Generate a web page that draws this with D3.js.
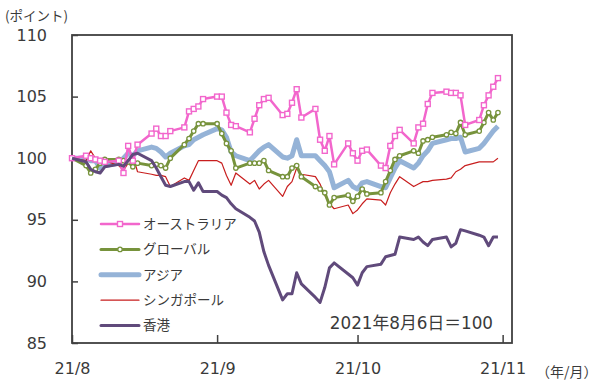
<!DOCTYPE html>
<html>
<head>
<meta charset="utf-8">
<script src="https://cdn.jsdelivr.net/npm/d3@7"></script>
<style>
  body { margin: 0; background: #fff; }
  text { fill: #3a3a3a; }
</style>
</head>
<body>
<div id="chart"></div>
<script>
// trading days, 2021
const days = ["8/6","8/9","8/10","8/11","8/12","8/13","8/16","8/17","8/18","8/19","8/20",
  "8/23","8/24","8/25","8/26","8/27","8/30","8/31",
  "9/1","9/2","9/3","9/6","9/7","9/8","9/9","9/10","9/13","9/14","9/15","9/16","9/17",
  "9/20","9/21","9/22","9/23","9/24","9/27","9/28","9/29","9/30",
  "10/1","10/4","10/5","10/6","10/7","10/8","10/11","10/12","10/13","10/14","10/15",
  "10/18","10/19","10/20","10/21","10/22","10/25","10/26","10/27","10/28","10/29",
  "11/1","11/2","11/3","11/4","11/5"];

const australia = [100,100.2,100.0,99.9,99.8,99.7,99.8,98.8,101.0,99.8,101.1,102.0,102.4,101.8,101.8,102.2,102.5,103.8,
  104.0,104.2,104.8,105.0,105.0,103.7,102.7,102.6,102.1,103.2,104.3,104.8,104.9,103.5,103.6,104.5,105.6,103.3,104.0,101.5,100.6,101.8,
  99.5,101.2,100.4,99.8,100.6,100.7,99.4,99.2,101.0,101.8,102.3,101.2,102.5,102.8,104.4,105.3,105.4,105.3,105.3,105.1,102.7,
  103.1,104.3,105.1,105.8,106.5];
const globalIdx = [100,99.4,98.8,99.1,99.6,99.9,99.9,99.8,99.7,99.3,99.6,99.4,99.5,99.4,99.2,100.0,101.1,101.6,
  102.2,102.8,102.8,102.8,102.0,101.2,100.6,99.2,99.6,99.6,99.6,99.8,99.0,98.5,98.5,99.2,99.4,98.5,97.7,97.5,97.2,96.2,
  96.8,97.0,96.5,96.9,97.5,97.1,97.2,98.1,99.0,99.9,100.2,100.6,100.4,101.4,101.5,101.7,101.9,102.1,102.0,102.9,101.9,
  102.2,102.9,103.7,103.1,103.7];
const asia = [100,100.0,99.8,99.8,99.2,99.4,99.6,100.0,100.4,100.2,100.6,100.9,100.8,100.5,100.1,100.4,101.0,101.1,
  101.5,101.7,101.9,102.4,102.3,101.7,100.5,100.2,99.8,100.2,100.6,100.9,101.1,100.1,100.0,100.2,101.5,100.2,100.2,99.8,99.4,98.9,
  97.6,98.2,97.7,97.5,98.0,98.1,97.7,97.6,98.4,99.2,99.8,99.2,99.6,100.2,100.6,101.2,101.5,101.6,101.6,101.7,100.5,
  100.8,101.2,101.7,102.2,102.6];
const singapore = [100,99.8,100.6,100.0,99.8,99.8,99.4,99.0,99.6,100.2,98.9,98.7,98.6,98.6,98.5,97.7,98.4,98.2,
  99.0,99.8,99.8,99.8,99.6,98.6,97.8,98.8,97.9,98.2,97.5,97.9,98.2,96.9,97.7,98.1,99.2,98.7,98.5,97.9,97.0,96.3,
  95.9,96.2,95.5,95.8,96.3,96.7,96.6,96.2,97.2,97.9,98.5,97.7,97.9,98.1,98.1,98.2,98.3,98.4,98.9,99.1,99.4,
  99.7,99.7,99.7,99.7,100.0];
const hongkong = [100,99.7,99.1,98.9,98.8,99.3,99.5,99.35,99.8,100.3,100.4,99.8,99.2,98.5,97.8,97.7,98.1,98.1,
  97.4,98.0,97.3,97.3,97.0,96.8,96.3,95.9,95.2,94.9,94.0,92.4,91.3,88.5,89.0,89.0,90.7,89.8,88.7,88.3,89.5,91.1,
  91.5,90.6,90.3,89.7,90.7,91.2,91.4,92.0,92.1,92.2,93.6,93.4,93.6,93.2,92.9,93.4,93.6,92.8,93.1,94.2,94.1,
  93.75,93.6,92.9,93.6,93.6];

const yTicks = [85, 90, 95, 100, 105, 110];
const xTickDays = ["8/6", "9/6", "10/6", "11/6"];

const W = 600, H = 385;
const margin = {left: 72, right: 512, top: 35, bottom: 343};

const parse = d3.timeParse("%Y/%m/%d");
const dates = days.map(d => parse("2021/" + d));

const x = d3.scaleTime()
  .domain([parse("2021/8/6"), parse("2021/11/8")])
  .range([margin.left, margin.right]);
const y = d3.scaleLinear().domain([85, 110]).range([margin.bottom, margin.top]);

const series = [
  {name: "アジア", values: asia, color: "#95B3D7", width: 5, marker: null},
  {name: "シンガポール", values: singapore, color: "#C81E1E", width: 1.2, marker: null},
  {name: "グローバル", values: globalIdx, color: "#77933C", width: 3, marker: "circle"},
  {name: "オーストラリア", values: australia, color: "#F266CC", width: 2.5, marker: "square"},
  {name: "香港", values: hongkong, color: "#604A7B", width: 3, marker: null}
];
const legendOrder = ["オーストラリア", "グローバル", "アジア", "シンガポール", "香港"];

const svg = d3.select("#chart").append("svg")
  .attr("width", W).attr("height", H);

// axes
svg.append("g")
  .attr("transform", "translate(" + margin.left + ",0)")
  .call(d3.axisLeft(y).tickValues(yTicks).tickSizeInner(-6).tickSizeOuter(0).tickPadding(25))
  .call(g => g.select(".domain").remove())
  .call(g => g.selectAll("line").attr("stroke", "#404040").attr("stroke-width", 1.5))
  .call(g => g.selectAll("text").attr("font-family", "DejaVu Sans").attr("font-size", 16).attr("fill", "#3a3a3a"));

svg.append("g")
  .attr("transform", "translate(0," + margin.bottom + ")")
  .call(d3.axisBottom(x).tickValues(xTickDays.map(d => parse("2021/" + d)))
    .tickFormat(d3.timeFormat("%y/%-m")).tickSizeInner(-8).tickSizeOuter(0).tickPadding(20))
  .call(g => g.select(".domain").remove())
  .call(g => g.selectAll("line").attr("stroke", "#404040").attr("stroke-width", 1.5))
  .call(g => g.selectAll("text").attr("font-family", "DejaVu Sans").attr("font-size", 16).attr("fill", "#3a3a3a"));

svg.append("rect")
  .attr("x", margin.left).attr("y", margin.top)
  .attr("width", margin.right - margin.left).attr("height", margin.bottom - margin.top)
  .attr("fill", "none").attr("stroke", "#404040").attr("stroke-width", 1.8);

// lines
const line = d3.line().x((d, i) => x(dates[i])).y(d => y(d));

series.forEach(s => {
  svg.append("path")
    .datum(s.values)
    .attr("fill", "none")
    .attr("stroke", s.color)
    .attr("stroke-width", s.width)
    .attr("stroke-linejoin", "round")
    .attr("d", line);
  if (s.marker === "square") {
    svg.append("g").selectAll("rect").data(s.values).join("rect")
      .attr("x", (d, i) => x(dates[i]) - 2.5).attr("y", d => y(d) - 2.5)
      .attr("width", 5).attr("height", 5)
      .attr("fill", "#fff").attr("stroke", s.color).attr("stroke-width", 1.4);
  } else if (s.marker === "circle") {
    svg.append("g").selectAll("circle").data(s.values).join("circle")
      .attr("cx", (d, i) => x(dates[i])).attr("cy", d => y(d)).attr("r", 2.2)
      .attr("fill", "#fff").attr("stroke", s.color).attr("stroke-width", 1.3);
  }
});

// legend
const lg = svg.append("g").attr("transform", "translate(100,224)");
legendOrder.forEach((name, i) => {
  const s = series.find(d => d.name === name);
  const g = lg.append("g").attr("transform", "translate(0," + (i * 25.4) + ")");
  g.append("line").attr("x1", 1).attr("x2", 39).attr("y1", 0).attr("y2", 0)
    .attr("stroke", s.color).attr("stroke-width", s.width).attr("stroke-linecap", "round");
  if (s.marker === "square") {
    g.append("rect").attr("x", 17.5).attr("y", -2.5).attr("width", 5).attr("height", 5)
      .attr("fill", "#fff").attr("stroke", s.color).attr("stroke-width", 1.4);
  } else if (s.marker === "circle") {
    g.append("circle").attr("cx", 20).attr("cy", 0).attr("r", 2.2)
      .attr("fill", "#fff").attr("stroke", s.color).attr("stroke-width", 1.3);
  }
  g.append("text").attr("x", 43).attr("y", 0).attr("dy", "0.36em")
    .attr("font-family", "Noto Sans CJK JP").attr("font-size", 13.5)
    .text(name);
});

// texts
svg.append("text").attr("x", 5).attr("y", 16).attr("dy", "0.36em")
  .attr("font-family", "Noto Sans CJK JP").attr("font-size", 13.5)
  .text("(ポイント)");
svg.append("text").attr("x", 536).attr("y", 372).attr("dy", "0.36em")
  .attr("font-family", "Noto Sans CJK JP").attr("font-size", 14)
  .text("（年/月）");
svg.append("text").attr("x", 493).attr("y", 323).attr("dy", "0.36em")
  .attr("text-anchor", "end")
  .attr("font-family", "DejaVu Sans, Noto Sans CJK JP").attr("font-size", 16.8)
  .text("2021年8月6日＝100");
</script>
</body>
</html>
